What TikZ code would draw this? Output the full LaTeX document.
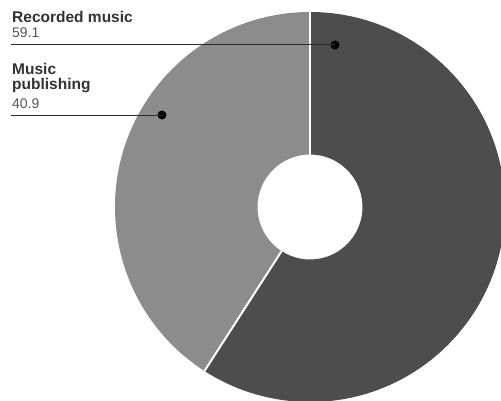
\documentclass[tikz,border=0pt]{standalone}
\usepackage{fontspec}
\setmainfont{Liberation Sans}
\definecolor{darkwedge}{RGB}{77,77,77}
\definecolor{lightwedge}{RGB}{140,140,140}
\definecolor{labeltext}{RGB}{50,50,50}
\definecolor{numtext}{RGB}{85,85,85}
\definecolor{leader}{RGB}{45,45,45}
\tikzset{
  wedgesep/.style={draw=white, line width=2pt},
  labelbold/.style={anchor=base west, inner sep=0pt, font=\fontsize{15.5}{16}\selectfont\bfseries, text=labeltext},
  labelnum/.style={anchor=base west, inner sep=0pt, font=\fontsize{14}{16}\selectfont, text=numtext},
  leaderline/.style={draw=leader, line width=1pt},
  dotmark/.style={circle, fill=black, inner sep=0pt, minimum size=9pt}
}
\begin{document}
\begin{tikzpicture}[x=1pt,y=1pt]
\useasboundingbox (0,0) rectangle (501,400);
\clip (0,0) rectangle (501,400);
\fill[white] (0,0) rectangle (501,400);
\def\R{195}
\def\r{52.5}
\def\ang{-122.76}
\begin{scope}[shift={(310,193)}]
  % Recorded music 59.1
  \fill[darkwedge] (90:\R) arc[start angle=90, end angle=\ang, radius=\R]
     -- (\ang:\r) arc[start angle=\ang, end angle=90, radius=\r] -- cycle;
  % Music publishing 40.9
  \fill[lightwedge] (\ang:\R) arc[start angle=\ang, end angle=-270, radius=\R]
     -- (90:\r) arc[start angle=90, end angle=\ang+360, radius=\r] -- cycle;
  \draw[wedgesep] (90:\r) -- (90:\R);
  \draw[wedgesep] (\ang:\r) -- (\ang:\R);
\end{scope}
% labels
\node[labelbold] (rmlabel) at (12,377) {Recorded music};
\node[labelnum] (rmvalue) at (12,362) {59.1};
\coordinate (rmstart) at (11,355);
\node[dotmark] (rmdot) at (335,355) {};
\draw[leaderline] (rmstart) -- (rmdot.center);

\node[labelbold] (mplabel1) at (12,325.5) {Music};
\node[labelbold] (mplabel2) at (12,310) {publishing};
\node[labelnum] (mpvalue) at (12,292) {40.9};
\coordinate (mpstart) at (11,285);
\node[dotmark] (mpdot) at (162,285) {};
\draw[leaderline] (mpstart) -- (mpdot.center);
\end{tikzpicture}
\end{document}
